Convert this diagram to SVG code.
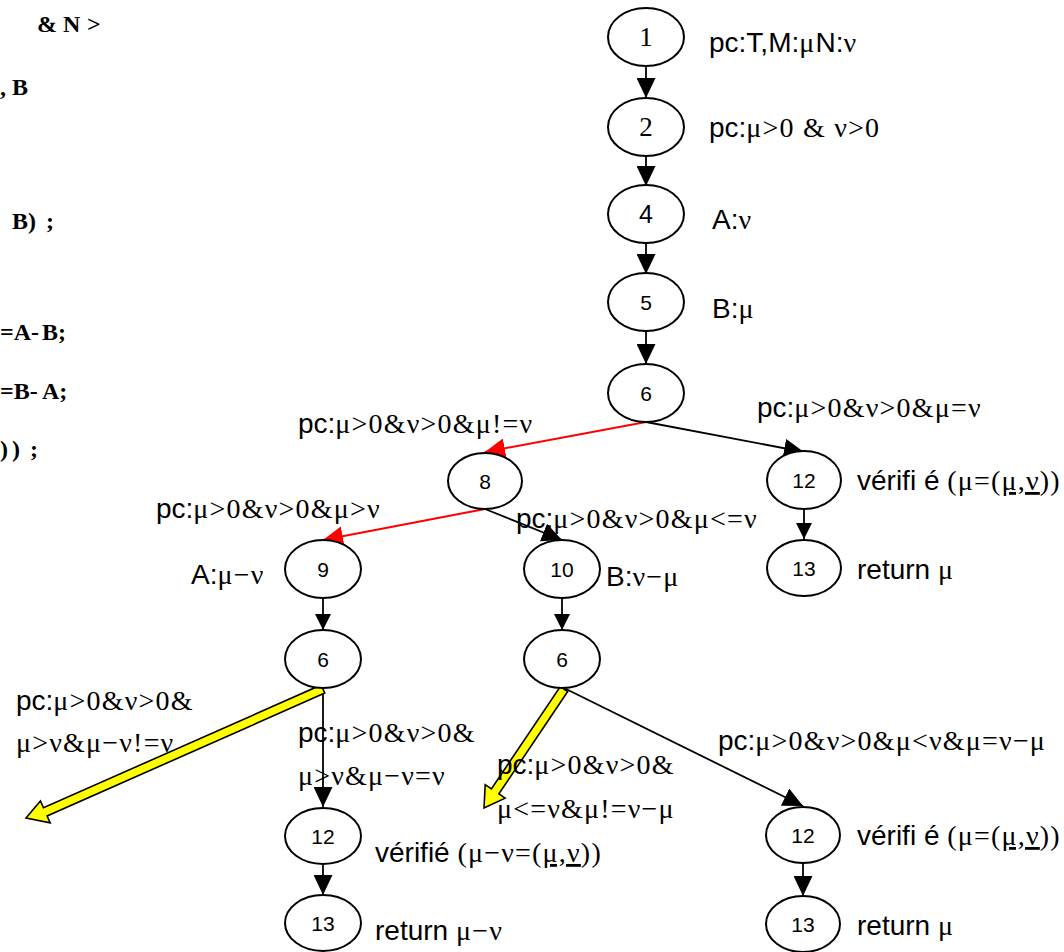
<svg xmlns="http://www.w3.org/2000/svg" width="1064" height="952" viewBox="0 0 1064 952">
<style>
.s{font-family:"Liberation Sans",Arial,sans-serif}
.r{font-family:"Liberation Serif","Times New Roman",serif;letter-spacing:1.2px}
.lbl{font-size:28px;fill:#000}
.code{font-family:"Liberation Serif","Times New Roman",serif;font-weight:bold;font-size:24px;fill:#000}
.nd ellipse{fill:#fff;stroke:#000;stroke-width:2}
.num{font-family:"Liberation Sans",Arial,sans-serif;font-size:21px;text-anchor:middle;fill:#000}
.numr{font-family:"Liberation Serif","Times New Roman",serif;font-size:27px;text-anchor:middle;fill:#000}
.e{fill:none;stroke:#000;stroke-width:1.8}
.red{fill:none;stroke:#f00;stroke-width:2}
.big{marker-end:url(#ab)}
.sm{marker-end:url(#as)}
.rm{marker-end:url(#ar)}
.ya{fill:#ff0;stroke:#000;stroke-width:1.6;stroke-linejoin:miter}
</style>
<defs>
<marker id="ab" markerUnits="userSpaceOnUse" markerWidth="20" markerHeight="19" refX="20" refY="9.5" orient="auto"><path d="M0,0L20,9.5L0,19z" fill="#000"/></marker>
<marker id="as" markerUnits="userSpaceOnUse" markerWidth="16" markerHeight="16" refX="16" refY="8" orient="auto"><path d="M0,0L16,8L0,16z" fill="#000"/></marker>
<marker id="ar" markerUnits="userSpaceOnUse" markerWidth="20" markerHeight="20" refX="20" refY="10" orient="auto"><path d="M0,0L20,10L0,20z" fill="#f00"/></marker>
</defs>
<rect width="1064" height="952" fill="#fff"/>

<g id="code">
<text class="code" y="32"><tspan x="37">&amp;</tspan><tspan x="63">N</tspan><tspan x="87">&gt;</tspan></text>
<text class="code" y="95"><tspan x="0">,</tspan><tspan x="12">B</tspan></text>
<text class="code" y="229"><tspan x="12">B)</tspan><tspan x="46">;</tspan></text>
<text class="code" y="340"><tspan x="0">=A-</tspan><tspan x="42">B;</tspan></text>
<text class="code" y="399"><tspan x="0">=B-</tspan><tspan x="42">A;</tspan></text>
<text class="code" y="457"><tspan x="0">)</tspan><tspan x="12">)</tspan><tspan x="30">;</tspan></text>
</g>

<g id="connectors">
<line class="e big" x1="646" y1="66" x2="646" y2="98"/>
<line class="e big" x1="646" y1="156" x2="646" y2="186"/>
<line class="e big" x1="646" y1="243" x2="646" y2="274"/>
<line class="e big" x1="646" y1="331" x2="646" y2="364"/>
<line class="red rm" x1="646" y1="422" x2="485" y2="452"/>
<line class="e big" x1="646" y1="422" x2="804" y2="452"/>
<line class="red rm" x1="485" y1="509" x2="323" y2="540"/>
<line class="e big" x1="485" y1="509" x2="562" y2="540"/>
<line class="e sm" x1="804" y1="509" x2="804" y2="539"/>
<line class="e sm" x1="323" y1="598" x2="323" y2="630"/>
<line class="e sm" x1="562" y1="598" x2="562" y2="630"/>
<line class="e big" x1="323" y1="688" x2="323" y2="807"/>
<line class="e big" x1="323" y1="865" x2="323" y2="895"/>
<line class="e big" x1="564" y1="688" x2="803" y2="806"/>
<line class="e big" x1="803" y1="864" x2="803" y2="896"/>
<polygon class="ya" points="324.8,693.1 47.1,816.0 50.2,822.9 26,818 40.4,800.9 43.5,807.8 321.2,684.9"/>
<polygon class="ya" points="567.7,691.5 498.9,793.9 505.1,798.1 484,808 485.2,784.7 491.4,788.9 560.3,686.5"/>
</g>

<g id="n1" class="nd"><ellipse cx="646" cy="37" rx="38" ry="29"/><text class="numr" x="646" y="46">1</text></g>
<g id="n2" class="nd"><ellipse cx="646" cy="127" rx="38" ry="29"/><text class="numr" x="646" y="136">2</text></g>
<g id="n4" class="nd"><ellipse cx="646" cy="214" rx="38" ry="29"/><text class="num" x="646" y="223" style="font-size:25px">4</text></g>
<g id="n5" class="nd"><ellipse cx="646" cy="302" rx="38" ry="29"/><text class="num" x="646" y="310">5</text></g>
<g id="n6a" class="nd"><ellipse cx="646" cy="393" rx="38" ry="29"/><text class="num" x="646" y="401">6</text></g>
<g id="n8" class="nd"><ellipse cx="485" cy="481" rx="37" ry="28"/><text class="num" x="485" y="489">8</text></g>
<g id="n9" class="nd"><ellipse cx="323" cy="569" rx="38" ry="29"/><text class="num" x="323" y="577">9</text></g>
<g id="n10" class="nd"><ellipse cx="562" cy="569" rx="38" ry="29"/><text class="num" x="562" y="577">10</text></g>
<g id="n12a" class="nd"><ellipse cx="804" cy="480" rx="37" ry="29"/><text class="num" x="804" y="488">12</text></g>
<g id="n13a" class="nd"><ellipse cx="804" cy="568" rx="37" ry="28"/><text class="num" x="804" y="576">13</text></g>
<g id="n6b" class="nd"><ellipse cx="323" cy="659" rx="38" ry="29"/><text class="num" x="323" y="667">6</text></g>
<g id="n6c" class="nd"><ellipse cx="562" cy="659" rx="38" ry="29"/><text class="num" x="562" y="667">6</text></g>
<g id="n12b" class="nd"><ellipse cx="323" cy="836" rx="38" ry="28"/><text class="num" x="323" y="844">12</text></g>
<g id="n12c" class="nd"><ellipse cx="803" cy="835" rx="37" ry="28"/><text class="num" x="803" y="843">12</text></g>
<g id="n13b" class="nd"><ellipse cx="323" cy="923" rx="38" ry="28"/><text class="num" x="323" y="931">13</text></g>
<g id="n13c" class="nd"><ellipse cx="803" cy="924" rx="37" ry="28"/><text class="num" x="803" y="932">13</text></g>

<g id="labels">
<text class="lbl" x="709" y="52"><tspan class="s">pc:T,M:</tspan><tspan class="r">μ</tspan><tspan class="s">N:</tspan><tspan class="r">ν</tspan></text>
<text class="lbl" x="709" y="137"><tspan class="s">pc:</tspan><tspan class="r">μ&gt;0 &amp; ν&gt;0</tspan></text>
<text class="lbl" x="712" y="229"><tspan class="s">A:</tspan><tspan class="r">ν</tspan></text>
<text class="lbl" x="712" y="318"><tspan class="s">B:</tspan><tspan class="r">μ</tspan></text>
<text class="lbl" x="757" y="417"><tspan class="s">pc:</tspan><tspan class="r">μ&gt;0&amp;ν&gt;0&amp;μ=ν</tspan></text>
<text class="lbl" x="298" y="433"><tspan class="s">pc:</tspan><tspan class="r">μ&gt;0&amp;ν&gt;0&amp;μ!=ν</tspan></text>
<text class="lbl" x="156" y="518"><tspan class="s">pc:</tspan><tspan class="r">μ&gt;0&amp;ν&gt;0&amp;μ&gt;ν</tspan></text>
<text class="lbl" x="516" y="528"><tspan class="s">pc:</tspan><tspan class="r">μ&gt;0&amp;ν&gt;0&amp;μ&lt;=ν</tspan></text>
<text class="lbl" x="191" y="584"><tspan class="s">A:</tspan><tspan class="r">μ−ν</tspan></text>
<text class="lbl" x="606" y="586"><tspan class="s">B:</tspan><tspan class="r">ν−μ</tspan></text>
<text class="lbl" x="857" y="490"><tspan class="s">vérifi é </tspan><tspan class="r">(μ=(</tspan><tspan class="r" text-decoration="underline">μ,ν</tspan><tspan class="r">))</tspan></text>
<text class="lbl" x="857" y="579"><tspan class="s">return </tspan><tspan class="r">μ</tspan></text>
<text class="lbl" x="16" y="710"><tspan class="s">pc:</tspan><tspan class="r">μ&gt;0&amp;ν&gt;0&amp;</tspan></text>
<text class="lbl r" x="16" y="752">μ&gt;ν&amp;μ−ν!=ν</text>
<text class="lbl" x="298" y="742"><tspan class="s">pc:</tspan><tspan class="r">μ&gt;0&amp;ν&gt;0&amp;</tspan></text>
<text class="lbl r" x="298" y="785">μ&gt;ν&amp;μ−ν=ν</text>
<text class="lbl" x="497" y="774"><tspan class="s">pc:</tspan><tspan class="r">μ&gt;0&amp;ν&gt;0&amp;</tspan></text>
<text class="lbl r" x="497" y="818">μ&lt;=ν&amp;μ!=ν−μ</text>
<text class="lbl" x="375" y="862"><tspan class="s">vérifié </tspan><tspan class="r">(μ−ν=(</tspan><tspan class="r" text-decoration="underline">μ,ν</tspan><tspan class="r">))</tspan></text>
<text class="lbl" x="375" y="940"><tspan class="s">return </tspan><tspan class="r">μ−ν</tspan></text>
<text class="lbl" x="718" y="750"><tspan class="s">pc:</tspan><tspan class="r">μ&gt;0&amp;ν&gt;0&amp;μ&lt;ν&amp;μ=ν−μ</tspan></text>
<text class="lbl" x="857" y="845"><tspan class="s">vérifi é </tspan><tspan class="r">(μ=(</tspan><tspan class="r" text-decoration="underline">μ,ν</tspan><tspan class="r">))</tspan></text>
<text class="lbl" x="857" y="935"><tspan class="s">return </tspan><tspan class="r">μ</tspan></text>
</g>
</svg>
